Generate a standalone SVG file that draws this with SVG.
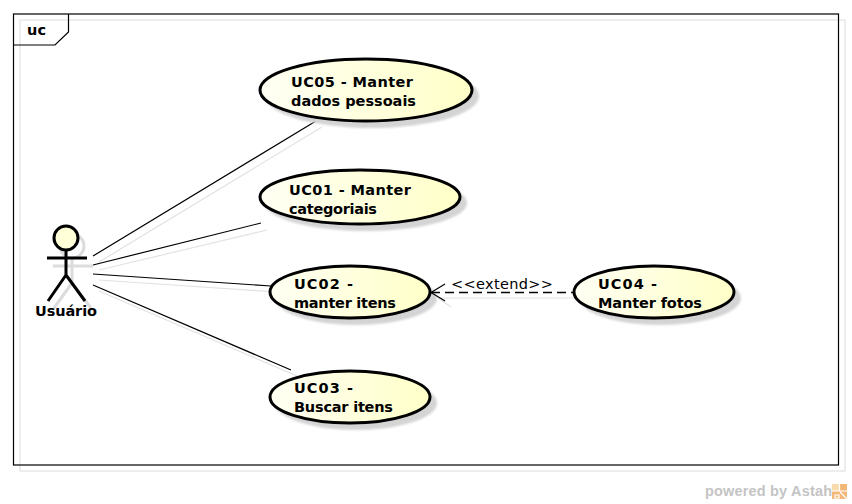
<svg xmlns="http://www.w3.org/2000/svg" width="852" height="504" viewBox="0 0 852 504">
<style>
text{font-family:"DejaVu Sans",sans-serif;font-size:14.500px;fill:#000}
.b{font-weight:bold}
.uc{fill:url(#g);stroke:#000;stroke-width:3}
.sh{fill:#d4d4d4;filter:url(#blur)}
.l{stroke:#000;stroke-width:1.2;fill:none}
.s{stroke:#e2e2e2;stroke-width:1.2;fill:none}
</style>
<defs>
<linearGradient id="g" x1="0" y1="0" x2="1" y2="0"><stop offset="0" stop-color="#fffff4"/><stop offset="1" stop-color="#ffffc8"/></linearGradient>
<filter id="blur" x="-5%" y="-10%" width="110%" height="120%"><feGaussianBlur stdDeviation="0.8"/></filter>
</defs>
<rect width="852" height="504" fill="#fff"/>
<g id="frame">
<rect x="20" y="20" width="825" height="451" fill="none" stroke="#e2e2e2" stroke-width="1.2"/>
<rect x="13.500" y="14" width="825" height="451" fill="none" stroke="#000" stroke-width="1.2"/>
<path d="M13 45H55L68.500 32V14" fill="none" stroke="#000" stroke-width="1.2"/>
<text class="b" x="27" y="35" textLength="19">uc</text>
</g>
<g id="connectors">
<path class="s" d="M99 262L322 127M99 270L267 230M99 280L277 292M99 291L297 376M438 298L451 307M438 298H579"/>
<path class="l" d="M93 256L316 121M93 265L261 223M93 274L271 286M93 285L291 370"/>
</g>
<g id="usuario">
<g fill="none" stroke="#dcdcdc" stroke-width="3"><circle cx="72" cy="246" r="12"/><path d="M53 266H93M72 258V283M72 283L54 308M72 283L91 308"/></g>
<circle cx="66" cy="238" r="12" fill="#ffffd8" stroke="#000" stroke-width="3"/>
<path d="M47 258H87M66 250V275M66 275L48 301M66 275L85 301" fill="none" stroke="#000" stroke-width="3"/>
<text class="b" x="35" y="316" textLength="62">Usuário</text>
</g>
<g id="uc05">
<ellipse class="sh" cx="372" cy="96" rx="107" ry="32"/>
<ellipse class="uc" cx="366" cy="90" rx="106" ry="31"/>
<text class="b" x="291" y="87" textLength="122">UC05 - Manter</text><text class="b" x="291" y="106" textLength="125">dados pessoais</text>
</g>
<g id="uc01">
<ellipse class="sh" cx="366" cy="203" rx="101" ry="28"/>
<ellipse class="uc" cx="360" cy="197" rx="100" ry="27"/>
<text class="b" x="289" y="195" textLength="122">UC01 - Manter</text><text class="b" x="289" y="214" textLength="88">categoriais</text>
</g>
<g id="uc02">
<ellipse class="sh" cx="356" cy="298" rx="81" ry="27"/>
<ellipse class="uc" cx="350" cy="292" rx="80" ry="26"/>
<text class="b" x="294" y="289" textLength="59">UC02 -</text><text class="b" x="294" y="308" textLength="102">manter itens</text>
</g>
<g id="uc03">
<ellipse class="sh" cx="356" cy="403" rx="81" ry="27"/>
<ellipse class="uc" cx="350" cy="397" rx="80" ry="26"/>
<text class="b" x="294" y="393" textLength="59">UC03 -</text><text class="b" x="294" y="412" textLength="99">Buscar itens</text>
</g>
<g id="uc04">
<ellipse class="sh" cx="660" cy="298" rx="81" ry="27"/>
<ellipse class="uc" cx="654" cy="292" rx="80" ry="26"/>
<text class="b" x="598" y="289" textLength="59">UC04 -</text><text class="b" x="598" y="308" textLength="104">Manter fotos</text>
</g>
<g id="extend">
<path class="l" d="M431 292.500L445 284M431 292.500L445 301"/>
<path d="M431 292.500H573" fill="none" stroke="#000" stroke-width="1.500" stroke-dasharray="9 5"/>
<text x="451" y="289" textLength="102">&lt;&lt;extend&gt;&gt;</text>
</g>
<g id="watermark">
<text x="705" y="496" textLength="127" style="font-family:'Liberation Sans',sans-serif;font-weight:bold;font-size:14.500px;fill:#c4c4c4">powered by Astah</text>
<rect x="832" y="484" width="15" height="15" fill="#f3b878"/>
<rect x="832" y="484" width="7" height="7" fill="#f8dcae"/>
<path d="M839.500 484V491M832 491H847M840 492L847 499M835 495H839V498H835Z" stroke="#fff" stroke-width="1.200" fill="none"/>
</g>
</svg>
